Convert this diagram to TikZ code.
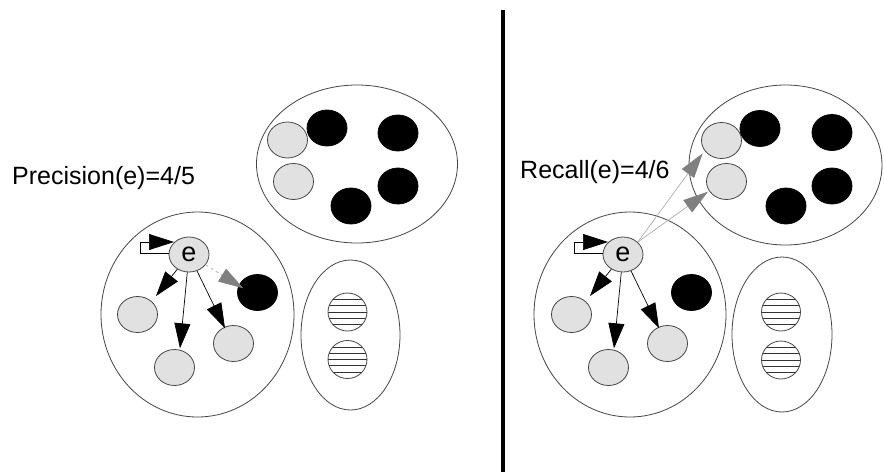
\documentclass[tikz,border=0pt]{standalone}
\usepackage{fontspec}
\setmainfont{Liberation Sans}
\usetikzlibrary{arrows.meta,shapes.geometric}
\definecolor{lgray}{RGB}{225,225,225}
\definecolor{outl}{RGB}{70,70,70}
\definecolor{ghead}{RGB}{128,128,128}
\definecolor{gline}{RGB}{175,175,175}
\begin{document}
\begin{tikzpicture}[x=1pt,y=-1pt,
  grp/.style={ellipse, draw=outl, line width=0.8pt, inner sep=0pt},
  item/.style={ellipse, inner sep=0pt, minimum width=40pt, minimum height=36pt, line width=0.8pt},
  gitem/.style={item, draw=outl, fill=lgray},
  bitem/.style={item, draw=black, fill=black},
  hitem/.style={item, minimum width=39pt, minimum height=38pt, draw=outl,
    path picture={\foreach \d in {-12.5,-6.3,0,6.3,12.5}
      \draw[line width=0.7pt, black!80] ([yshift=\d pt]path picture bounding box.west) -- ([yshift=\d pt]path picture bounding box.east);}},
  enode/.style={gitem, minimum width=40pt, minimum height=35pt, font=\fontsize{27}{30}\selectfont},
  blkarr/.style={-{Triangle[length=25pt,width=16pt]}, line width=0.7pt, black},
  grayarr/.style={-{Triangle[length=25pt,width=15pt,color=ghead]}, draw=gline, line width=0.7pt},
  lbl/.style={anchor=base west, inner sep=0pt, font=\fontsize{25}{30}\selectfont}
]
\useasboundingbox (0,0) rectangle (884,472);
\fill[white] (0,0) rectangle (884,472);

% ---------------- left panel ----------------
\node[grp, minimum width=193pt, minimum height=205pt] (LA) at (197.5,314.5) {};
\node[grp, minimum width=201pt, minimum height=158pt] (LB) at (357,164) {};
\node[grp, minimum width=99pt, minimum height=150pt] (LC) at (350.5,335) {};

\node[enode] (Le) at (189,254.5) {e};
\node[gitem] (Lg1) at (137.5,314.5) {};
\node[gitem] (Lg2) at (174.5,367.5) {};
\node[gitem] (Lg3) at (233.5,343.5) {};
\node[bitem] (Lb) at (257.5,292.5) {};

\node[gitem] (Ltg1) at (287.5,140) {};
\node[gitem] (Ltg2) at (293.5,181.5) {};
\node[bitem] (Ltb1) at (327,128) {};
\node[bitem] (Ltb2) at (398,133) {};
\node[bitem] (Ltb3) at (398,186) {};
\node[bitem] (Ltb4) at (351,206) {};

\node[hitem] (Lh1) at (347.5,312) {};
\node[hitem] (Lh2) at (347.5,359.5) {};

\coordinate (Lt1) at (156,296);
\coordinate (Lt2) at (180,348.3);
\coordinate (Lt3) at (225,328.3);
\coordinate (Lt4) at (243.3,288.3);
\coordinate (Lloop) at (174,242);

\draw[blkarr] (Le) -- (Lt1);
\draw[blkarr] (Le) -- (Lt2);
\draw[blkarr] (Le) -- (Lt3);
\draw[grayarr, dashed] (Le) -- (Lt4);
\draw[blkarr] (Le.west |- 0,253) -- (140,253) -- (140,242) -- (Lloop);

\node[lbl] (Lprec) at (12,184) {Precision(e)=4/5};

% ---------------- divider ----------------
\draw[line width=4.5pt] (503,10) -- (503,472);

% ---------------- right panel ----------------
\node[grp, minimum width=192pt, minimum height=205pt] (RA) at (630,314.5) {};
\node[grp, minimum width=193pt, minimum height=160pt] (RB) at (785.5,165) {};
\node[grp, minimum width=100pt, minimum height=155pt] (RC) at (782,334.5) {};

\node[enode] (Re) at (623,254.5) {e};
\node[gitem] (Rg1) at (571.5,314.5) {};
\node[gitem] (Rg2) at (608.5,367.5) {};
\node[gitem] (Rg3) at (667.5,343.5) {};
\node[bitem] (Rb) at (691.5,292.5) {};

\node[gitem] (Rtg1) at (721.5,140.5) {};
\node[gitem] (Rtg2) at (726.5,181.5) {};
\node[bitem] (Rtb1) at (760,128.5) {};
\node[bitem] (Rtb2) at (832,132.5) {};
\node[bitem] (Rtb3) at (832,186) {};
\node[bitem] (Rtb4) at (786,206) {};

\node[hitem] (Rh1) at (781,312) {};
\node[hitem] (Rh2) at (781,360) {};

\coordinate (Rt1) at (590,296);
\coordinate (Rt2) at (614,348.3);
\coordinate (Rt3) at (659,328.3);
\coordinate (Ru1) at (702.7,153.3);
\coordinate (Ru2) at (708,191.7);
\coordinate (Rloop) at (608,242);

\draw[blkarr] (Re) -- (Rt1);
\draw[blkarr] (Re) -- (Rt2);
\draw[blkarr] (Re) -- (Rt3);
\draw[grayarr] (Re.40) -- (Ru1);
\draw[grayarr] (Re.40) -- (Ru2);
\draw[blkarr] (Re.west |- 0,253) -- (574,253) -- (574,242) -- (Rloop);

\node[lbl] (Rrec) at (520,178) {Recall(e)=4/6};
\end{tikzpicture}
\end{document}
